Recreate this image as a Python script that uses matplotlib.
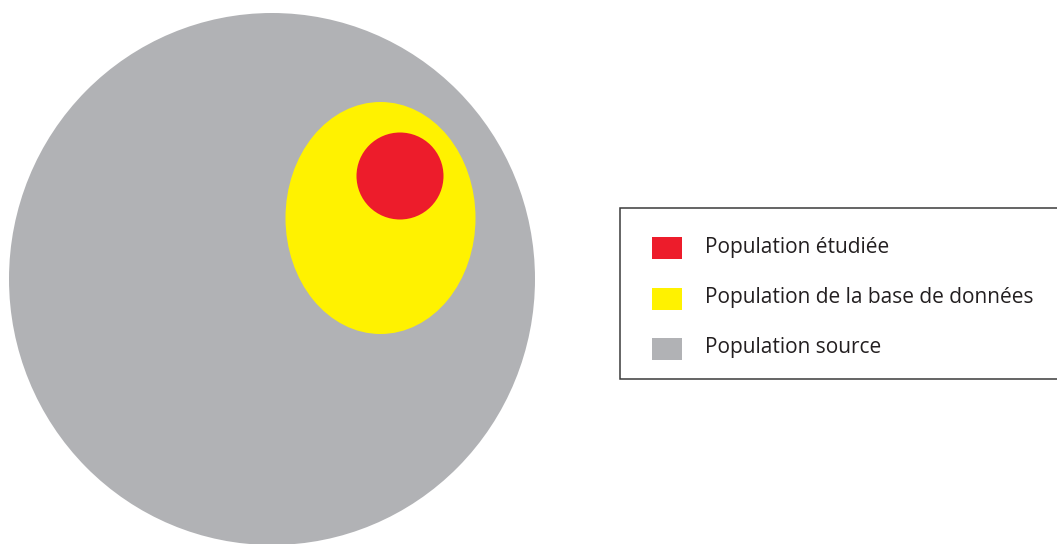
import matplotlib.pyplot as plt
from matplotlib.patches import Ellipse, Rectangle

# populations (outer to inner), pixel layout of the original diagram
labels = ['Population source', 'Population de la base de données', 'Population étudiée']
colors = ['#b1b2b5', '#fff200', '#ed1c2b']
centers_x = [272, 380.5, 400]
centers_y = [279, 218, 176]
widths = [526, 190, 87]
heights = [532, 232, 87]

fig = plt.figure(figsize=(10.57, 5.44), dpi=100)
ax = fig.add_axes([0, 0, 1, 1])
ax.set_xlim(0, 1057)
ax.set_ylim(544, 0)
ax.axis('off')

# nested ellipses
for cx, cy, w, h, c in zip(centers_x, centers_y, widths, heights, colors):
    ax.add_patch(Ellipse((cx, cy), w, h, facecolor=c, edgecolor='none'))

# legend box (runs off the right edge like the original)
ax.add_patch(Rectangle((619.5, 208), 460, 171, facecolor='white',
                       edgecolor='#3a3a3a', linewidth=1.1, clip_on=True))

# legend entries, top to bottom: red, yellow, gray
rows_y = [248, 299, 349]
for y, lab, c in zip(rows_y, labels[::-1], colors[::-1]):
    ax.add_patch(Rectangle((652, y - 11), 30, 22, facecolor=c, edgecolor='none'))
    ax.text(705, y - 1, lab, fontsize=15, family='Open Sans', color='#231f20',
            va='center', ha='left')

fig.savefig('out.png', dpi=100)
